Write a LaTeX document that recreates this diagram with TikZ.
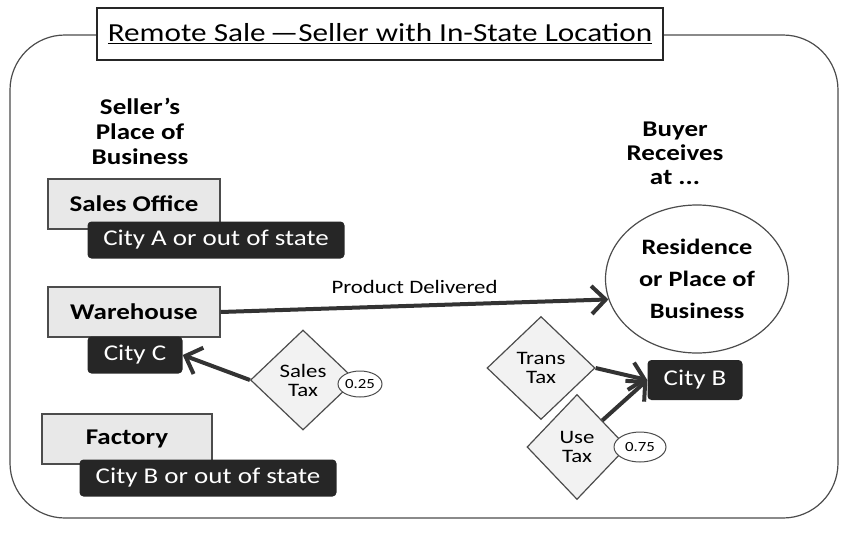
\documentclass[tikz,border=0pt]{standalone}
\usepackage{fontspec}
\setmainfont{Carlito}[FakeStretch=1.2]
\usetikzlibrary{shapes.geometric,arrows.meta,positioning}

\begin{document}
\begin{tikzpicture}[x=1pt,y=-1pt]
      \tikzstyle{every node}+=[inner sep=0pt]
      \tikzstyle{placebox}=[draw=black!70,fill=black!9,line width=1.2pt,minimum width=172pt,minimum height=50pt,font=\fontsize{22.5}{24}\selectfont\bfseries]
      \tikzstyle{citybox}=[fill=black!85,text=white,rounded corners=4pt,minimum height=37pt,font=\fontsize{22.5}{24}\selectfont]
      \tikzstyle{headtext}=[align=center,font=\fontsize{22.5}{25}\selectfont\bfseries]
      \tikzstyle{taxbox}=[diamond,draw=black!70,fill=black!5,line width=1.2pt,align=center,font=\fontsize{19}{19}\selectfont]
      \tikzstyle{ratebox}=[ellipse,draw=black!70,fill=white,line width=1pt,font=\fontsize{14}{14}\selectfont]
      \tikzstyle{flow}=[draw=black!80,line width=4pt,-{Straight Barb[length=14pt,width=28pt]}]
      \useasboundingbox (0,0) rectangle (843,533);
      % frame and title
      \draw [black!70,line width=1.2pt,rounded corners=55pt] (10,35) rectangle (838,518);
      \node [draw=black!85,line width=2.5pt,fill=white,minimum width=566pt,minimum height=52pt,font=\fontsize{26}{30}\selectfont] (title) at (380,34) {\underline{Remote Sale\,—Seller with In-State Location}};
      % seller side
      \node [headtext] (seller) at (140,131) {Seller's\\Place of\\Business};
      \node [placebox] (office) at (134,204) {Sales Office};
      \node [citybox,minimum width=257pt] (cityA) at (216,240) {City A or out of state};
      \node [placebox] (warehouse) at (134,312) {Warehouse};
      \node [citybox,minimum width=95pt] (cityC) at (135,355) {City C};
      \node [placebox,minimum width=170pt] (factory) at (127,439) {Factory};
      \node [citybox,minimum width=257pt] (cityBout) at (208,478) {City B or out of state};
      \node [taxbox,minimum width=105pt,minimum height=100pt] (salestax) at (303,380) {Sales\\Tax};
      \node [ratebox,minimum width=44pt,minimum height=26pt] (salesrate) at (360,384) {0.25};
      % buyer side
      \node [headtext,font=\fontsize{22.5}{24}\selectfont\bfseries] (buyer) at (675,153) {Buyer\\Receives\\at ...};
      \node [ellipse,draw=black!70,fill=white,line width=1.2pt,minimum width=183pt,minimum height=148pt,align=center,font=\fontsize{22}{32}\selectfont\bfseries] (residence) at (697,279) {Residence\\or Place of\\Business};
      \node [citybox,minimum width=95pt,minimum height=40pt] (cityB) at (695,380) {City B};
      \node [taxbox,minimum width=108pt,minimum height=103pt] (transtax) at (541,368) {Trans\\Tax};
      \node [taxbox,minimum width=100pt,minimum height=105pt] (usetax) at (577,447) {Use\\Tax};
      \node [ratebox,minimum width=52pt,minimum height=30pt] (userate) at (640,447) {0.75};
      % connectors
      \draw [flow] (warehouse.east) -- node [above=10pt,font=\fontsize{19}{19}\selectfont] (delivered) {Product Delivered} (residence.193);
      \draw [flow] (salestax.west) -- (cityC.east);
      \draw [flow] (transtax.east) -- (cityB.west);
      \draw [flow] (usetax.north east) -- (cityB.west);
    \end{tikzpicture}
\end{document}
